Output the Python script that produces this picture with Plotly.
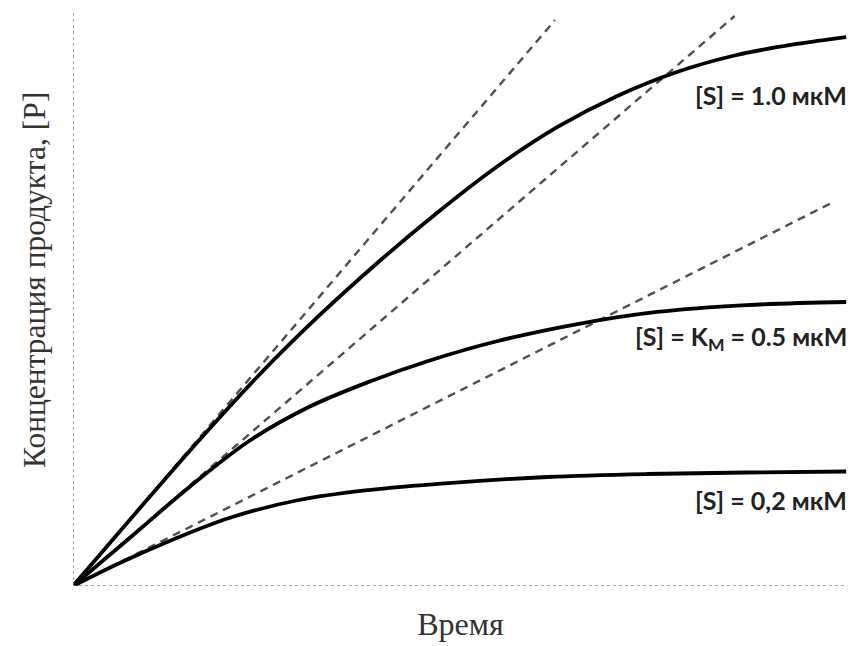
import plotly.graph_objects as go

# Time (arbitrary units) and product concentration (arbitrary units)
t_s10 = [0, 0.735, 1.639, 2.413, 3.187, 3.961, 4.735, 5.510, 6.284, 7.058, 7.832, 8.606, 9.381, 10.026]
p_s10 = [0, 1.150, 2.544, 3.676, 4.704, 5.645, 6.516, 7.317, 7.997, 8.537, 8.955, 9.251, 9.443, 9.564]

t_s05 = [0, 0.735, 1.510, 2.284, 3.058, 3.832, 4.606, 5.510, 6.542, 7.574, 8.735, 10.026]
p_s05 = [0, 0.836, 1.725, 2.526, 3.118, 3.554, 3.920, 4.268, 4.564, 4.774, 4.895, 4.948]

t_s02 = [0, 0.606, 1.252, 2.026, 2.929, 3.832, 4.865, 6.155, 7.445, 8.735, 10.026]
p_s02 = [0, 0.401, 0.784, 1.185, 1.498, 1.672, 1.794, 1.899, 1.951, 1.977, 1.995]

# initial-rate tangents (start, end)
t_tan10 = [0, 6.25]
p_tan10 = [0, 9.86]
t_tan05 = [0, 8.58]
p_tan05 = [0, 9.93]
t_tan02 = [0, 9.86]
p_tan02 = [0, 6.69]

labels = ["[S] = 1.0 мкМ", "[S] = K<sub>M</sub> = 0.5 мкМ", "[S] = 0,2 мкМ"]
label_y = [8.55, 4.32, 1.5]

x_title = "Время"
y_title = "Концентрация продукта, [P]"

fig = go.Figure()
for tx, py in [(t_tan10, p_tan10), (t_tan05, p_tan05), (t_tan02, p_tan02)]:
    fig.add_trace(go.Scatter(x=tx, y=py, mode="lines",
                             line=dict(color="#505050", width=2.4, dash="8px,6px"),
                             showlegend=False, hoverinfo="skip"))
for tx, py in [(t_s10, p_s10), (t_s05, p_s05), (t_s02, p_s02)]:
    fig.add_trace(go.Scatter(x=tx, y=py, mode="lines",
                             line=dict(color="black", width=3.8, shape="spline", smoothing=1.0),
                             showlegend=False, hoverinfo="skip"))

for txt, ly in zip(labels, label_y):
    fig.add_annotation(x=10.03, y=ly, text=txt, showarrow=False, xanchor="right",
                       yanchor="middle", xshift=3,
                       font=dict(family="Lato", size=25, color="#222", weight="bold"))

# y-axis title placed as rotated text
fig.add_annotation(x=0, y=5.33, xref="paper", yref="y", text=y_title, showarrow=False,
                   textangle=-90, xanchor="center", yanchor="middle", xshift=-39,
                   font=dict(family="Liberation Serif", size=31.5, color="#333"))

# axis lines (dotted gray)
fig.add_shape(type="line", x0=0, x1=0, y0=0, y1=10, xref="x", yref="y",
              line=dict(color="#888", width=1.5, dash="dot"))
fig.add_shape(type="line", x0=0, x1=10, y0=0, y1=0, xref="x", yref="y",
              line=dict(color="#888", width=1.5, dash="dot"))

fig.update_xaxes(range=[0, 10.05], showgrid=False, zeroline=False, showline=False,
                 showticklabels=False, ticks="",
                 title=dict(text=x_title, font=dict(family="Liberation Serif", size=32, color="#333"),
                            standoff=26))
fig.update_yaxes(range=[0, 10], showgrid=False, zeroline=False, showline=False,
                 showticklabels=False, ticks="")
fig.update_layout(width=854, height=646, margin=dict(l=73, r=6, t=12, b=60),
                  plot_bgcolor="white", paper_bgcolor="white")
fig.write_html("out.html")
